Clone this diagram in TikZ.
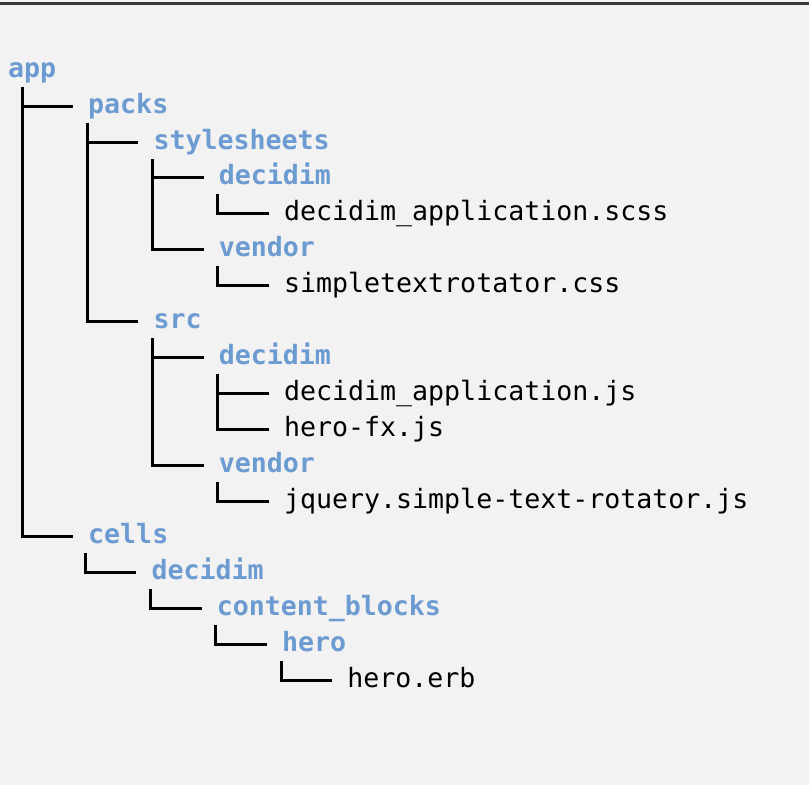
\documentclass[tikz,border=0pt]{standalone}
\usepackage{fontspec}
\setmonofont{DejaVu Sans Mono}
\definecolor{fondo}{RGB}{242,242,242}
\definecolor{carpeta}{RGB}{108,155,210}
\tikzset{
  item/.style={anchor=west, inner sep=0pt, text height=22pt, text depth=7.5pt,
    font=\ttfamily\fontsize{26.6}{32}\selectfont},
  dir/.style={item, carpeta, font=\ttfamily\bfseries\fontsize{26.6}{32}\selectfont},
  archivo/.style={item, black},
  rama/.style={line width=3pt, black}
}
\begin{document}
\begin{tikzpicture}[x=1pt, y=-1pt]
    % Fondo y linea superior
    \fill[fondo] (0,0) rectangle (809,785);
    \useasboundingbox (0,0) rectangle (809,785);
    \draw[line width=2.6pt, black!78] (0,3.5) -- (809,3.5);

    % Carpetas y archivos
    \node[dir] (app) at (8,70) {app};
    \node[dir] (packs) at (88,106) {packs};
    \node[dir] (stylesheets) at (153.3,142) {stylesheets};
    \node[dir] (ssdecidim) at (218.6,177.5) {decidim};
    \node[archivo] (scss) at (283.9,213.5) {decidim\_application.scss};
    \node[dir] (ssvendor) at (218.6,249.5) {vendor};
    \node[archivo] (css) at (283.9,285.5) {simpletextrotator.css};
    \node[dir] (src) at (153.3,321.5) {src};
    \node[dir] (srcdecidim) at (218.6,357.5) {decidim};
    \node[archivo] (appjs) at (283.9,393) {decidim\_application.js};
    \node[archivo] (herofx) at (283.9,429) {hero-fx.js};
    \node[dir] (srcvendor) at (218.6,465) {vendor};
    \node[archivo] (jqueryjs) at (283.9,501) {jquery.simple-text-rotator.js};
    \node[dir] (cells) at (88,536.5) {cells};
    \node[dir] (cellsdecidim) at (151.3,572.5) {decidim};
    \node[dir] (blocks) at (216.6,608.5) {content\_blocks};
    \node[dir] (hero) at (281.9,644.5) {hero};
    \node[archivo] (heroerb) at (347.2,680.5) {hero.erb};

    % Ramas del arbol
    \draw[rama] ([xshift=-66pt,yshift=-2pt]packs.west |- app.south) |- ([xshift=-15pt]packs.west);
    \draw[rama] ([xshift=-66pt,yshift=-2pt]cells.west |- app.south) |- ([xshift=-15pt]cells.west);
    \draw[rama] ([xshift=-66pt,yshift=-2pt]stylesheets.west |- packs.south) |- ([xshift=-15pt]stylesheets.west);
    \draw[rama] ([xshift=-66pt,yshift=-2pt]src.west |- packs.south) |- ([xshift=-15pt]src.west);
    \draw[rama] ([xshift=-66pt,yshift=-2pt]ssdecidim.west |- stylesheets.south) |- ([xshift=-15pt]ssdecidim.west);
    \draw[rama] ([xshift=-66pt,yshift=-2pt]ssvendor.west |- stylesheets.south) |- ([xshift=-15pt]ssvendor.west);
    \draw[rama] ([xshift=-66pt,yshift=-2pt]scss.west |- ssdecidim.south) |- ([xshift=-15pt]scss.west);
    \draw[rama] ([xshift=-66pt,yshift=-2pt]css.west |- ssvendor.south) |- ([xshift=-15pt]css.west);
    \draw[rama] ([xshift=-66pt,yshift=-2pt]srcdecidim.west |- src.south) |- ([xshift=-15pt]srcdecidim.west);
    \draw[rama] ([xshift=-66pt,yshift=-2pt]srcvendor.west |- src.south) |- ([xshift=-15pt]srcvendor.west);
    \draw[rama] ([xshift=-66pt,yshift=-2pt]appjs.west |- srcdecidim.south) |- ([xshift=-15pt]appjs.west);
    \draw[rama] ([xshift=-66pt,yshift=-2pt]herofx.west |- srcdecidim.south) |- ([xshift=-15pt]herofx.west);
    \draw[rama] ([xshift=-66pt,yshift=-2pt]jqueryjs.west |- srcvendor.south) |- ([xshift=-15pt]jqueryjs.west);
    \draw[rama] ([xshift=-66pt,yshift=-2pt]cellsdecidim.west |- cells.south) |- ([xshift=-15pt]cellsdecidim.west);
    \draw[rama] ([xshift=-66pt,yshift=-2pt]blocks.west |- cellsdecidim.south) |- ([xshift=-15pt]blocks.west);
    \draw[rama] ([xshift=-66pt,yshift=-2pt]hero.west |- blocks.south) |- ([xshift=-15pt]hero.west);
    \draw[rama] ([xshift=-66pt,yshift=-2pt]heroerb.west |- hero.south) |- ([xshift=-15pt]heroerb.west);
\end{tikzpicture}
\end{document}
